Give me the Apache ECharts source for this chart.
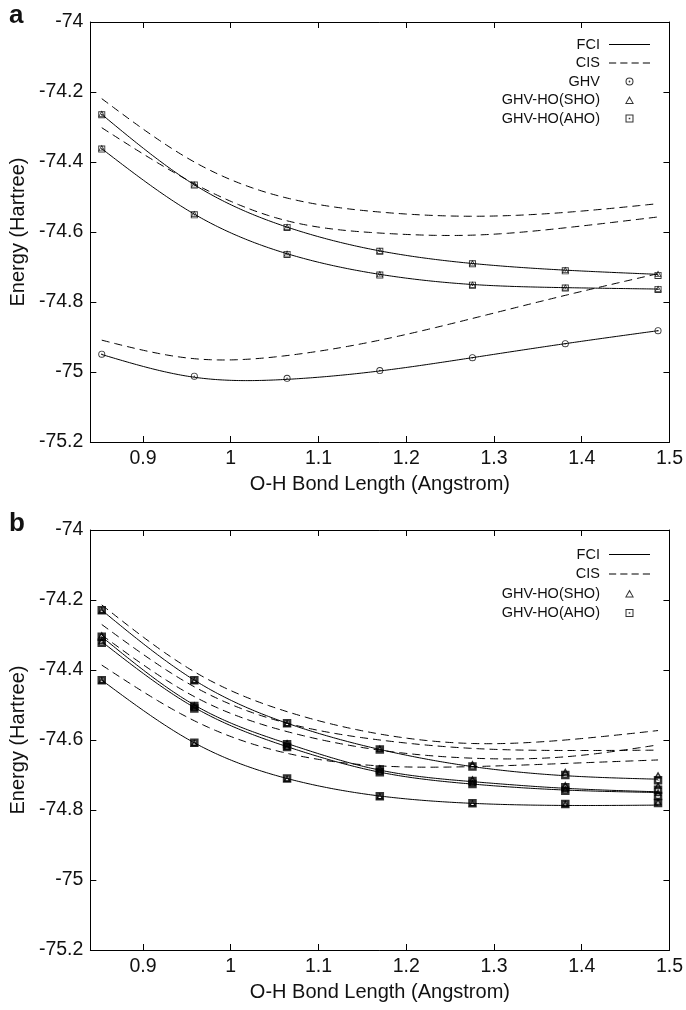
<!DOCTYPE html>
<html>
<head>
<meta charset="utf-8">
<script src="https://cdn.jsdelivr.net/npm/echarts@6/dist/echarts.min.js"></script>
<style>html,body{margin:0;padding:0;background:#fff}#c{width:686px;height:1010px}</style>
</head>
<body>
<div id="c"></div>
<script>
// O-H bond lengths (Angstrom)
const bondLength = [0.853, 0.9585, 1.0642, 1.1699, 1.2755, 1.3813, 1.4870];
const xTicks = [0.9, 1.0, 1.1, 1.2, 1.3, 1.4, 1.5];

// Panel a
const fciA1 = [-74.264, -74.465, -74.586, -74.654, -74.690, -74.709, -74.721];
const fciA2 = [-74.362, -74.549, -74.662, -74.721, -74.750, -74.759, -74.763];
const fciA3 = [-74.950, -75.015, -75.021, -74.997, -74.959, -74.919, -74.882];
const cisA1 = [-74.219, -74.400, -74.503, -74.543, -74.555, -74.544, -74.519];
const cisA2 = [-74.302, -74.462, -74.568, -74.603, -74.609, -74.588, -74.557];
const cisA3 = [-74.909, -74.962, -74.953, -74.909, -74.847, -74.781, -74.719];
const ghvA  = [-74.949, -75.012, -75.018, -74.996, -74.959, -74.919, -74.882];
const shoA1 = [-74.262, -74.464, -74.585, -74.653, -74.689, -74.708, -74.719];
const ahoA1 = [-74.265, -74.466, -74.587, -74.655, -74.691, -74.711, -74.724];
const shoA2 = [-74.360, -74.548, -74.661, -74.720, -74.750, -74.758, -74.762];
const ahoA2 = [-74.363, -74.551, -74.664, -74.723, -74.752, -74.760, -74.764];

// Panel b
const fciB1 = [-74.229, -74.429, -74.552, -74.627, -74.676, -74.702, -74.712];
const fciB2 = [-74.305, -74.500, -74.610, -74.686, -74.719, -74.738, -74.748];
const fciB3 = [-74.319, -74.507, -74.619, -74.692, -74.726, -74.743, -74.750];
const fciB4 = [-74.429, -74.608, -74.710, -74.760, -74.781, -74.787, -74.786];
const cisB1 = [-74.214, -74.405, -74.519, -74.583, -74.610, -74.600, -74.573];
const cisB2 = [-74.270, -74.448, -74.552, -74.600, -74.624, -74.630, -74.629];
const cisB3 = [-74.300, -74.476, -74.576, -74.629, -74.652, -74.648, -74.614];
const cisB4 = [-74.386, -74.545, -74.638, -74.674, -74.676, -74.667, -74.657];
const shoB1 = [-74.229, -74.429, -74.552, -74.624, -74.668, -74.690, -74.700];
const ahoB1 = [-74.229, -74.429, -74.552, -74.627, -74.676, -74.700, -74.715];
const shoB2 = [-74.300, -74.500, -74.608, -74.680, -74.712, -74.728, -74.730];
const ahoB2 = [-74.305, -74.503, -74.612, -74.684, -74.717, -74.735, -74.742];
const shoB3 = [-74.316, -74.507, -74.618, -74.689, -74.722, -74.740, -74.750];
const ahoB3 = [-74.322, -74.510, -74.620, -74.692, -74.726, -74.745, -74.760];
const shoB4 = [-74.429, -74.608, -74.710, -74.760, -74.780, -74.782, -74.776];
const ahoB4 = [-74.429, -74.608, -74.710, -74.761, -74.781, -74.783, -74.780];

const FONT = 'Liberation Sans';
const zip = ys => ys.map((y, i) => [bondLength[i], y]);

const circleDot = 'path://M0,5A5,5 0 1,1 10,5A5,5 0 1,1 0,5Z M1.3,5A3.7,3.7 0 1,0 8.7,5A3.7,3.7 0 1,0 1.3,5Z M3.9,5A1.1,1.1 0 1,1 6.1,5A1.1,1.1 0 1,1 3.9,5Z';
const squareDot = 'path://M0,0H10V10H0Z M1.3,1.3V8.7H8.7V1.3Z M4,4H6V6H4Z';
const triangle = 'path://M5,0L10,9H0Z M5,2.4L1.8,7.9H8.2Z';
const squareThick = 'path://M0,0H10V10H0Z M3,3V7H7V3Z M4.4,4.4H5.6V5.6H4.4Z';
const triThick = 'path://M5,0L10,9H0Z M5,4L3.2,7.1H6.8Z';
const solidIcon = 'path://M0,0H40V1.2H0Z';
const dashIcon = 'path://M0,0H7V1.2H0Z M11,0H18V1.2H11Z M22,0H29V1.2H22Z M33,0H40V1.2H33Z';

// natural cubic spline (as in gnuplot "smooth csplines"), evaluated for drawing
function splineSampler(xs, ys) {
  const n = xs.length, h = [], al = [], l = [1], mu = [0], z = [0], c = new Array(n).fill(0);
  for (let i = 0; i < n - 1; i++) h.push(xs[i + 1] - xs[i]);
  for (let i = 1; i < n - 1; i++) al[i] = 3 / h[i] * (ys[i + 1] - ys[i]) - 3 / h[i - 1] * (ys[i] - ys[i - 1]);
  for (let i = 1; i < n - 1; i++) {
    l[i] = 2 * (xs[i + 1] - xs[i - 1]) - h[i - 1] * mu[i - 1];
    mu[i] = h[i] / l[i];
    z[i] = (al[i] - h[i - 1] * z[i - 1]) / l[i];
  }
  const b = [], d = [];
  for (let j = n - 2; j >= 0; j--) {
    c[j] = (j === 0 ? 0 : z[j] - mu[j] * c[j + 1]);
    b[j] = (ys[j + 1] - ys[j]) / h[j] - h[j] * (c[j + 1] + 2 * c[j]) / 3;
    d[j] = (c[j + 1] - c[j]) / (3 * h[j]);
  }
  return function (x) {
    let j = 0;
    while (j < n - 2 && x > xs[j + 1]) j++;
    const t = x - xs[j];
    return ys[j] + b[j] * t + c[j] * t * t + d[j] * t * t * t;
  };
}

function lineSeries(name, ys, g, dashed) {
  const f = splineSampler(bondLength, ys);
  return {
    type: 'custom', name: name, xAxisIndex: g * 2, yAxisIndex: g * 2,
    data: zip(ys), itemStyle: { color: '#000' }, z: 2, silent: true,
    renderItem: function (params, api) {
      if (params.dataIndex !== 0) return null;
      const pts = [];
      const x0 = bondLength[0], x1 = bondLength[bondLength.length - 1];
      const N = 240;
      for (let k = 0; k <= N; k++) {
        const x = x0 + (x1 - x0) * k / N;
        pts.push(api.coord([x, f(x)]));
      }
      return {
        type: 'polyline', shape: { points: pts }, silent: true,
        style: { stroke: '#000', lineWidth: 1, fill: null, lineDash: dashed ? [8, 5] : null }
      };
    }
  };
}
function scatterSeries(name, arrs, g, sym, size) {
  let d = [];
  arrs.forEach(a => { d = d.concat(zip(a)); });
  return {
    type: 'scatter', name: name, xAxisIndex: g * 2, yAxisIndex: g * 2,
    data: d, symbol: sym, symbolSize: size, symbolKeepAspect: true,
    itemStyle: { color: '#000', borderWidth: 0 }, z: 5, silent: true
  };
}

function grids(top) { return { left: 89, top: top, width: 582, height: 420, containLabel: false }; }

function xAxes(g) {
  return [{
    type: 'value', gridIndex: g, position: 'bottom', min: 0.84, max: 1.5,
    axisLine: { show: true, onZero: false, lineStyle: { color: '#000', width: 1 } },
    axisTick: { show: true, inside: true, length: 6, customValues: xTicks, lineStyle: { color: '#000' } },
    axisLabel: { show: true, customValues: xTicks, fontSize: 19.5, color: '#111', fontFamily: FONT, margin: 7,
      formatter: v => String(Math.round(v * 10) / 10) },
    splitLine: { show: false },
    name: 'O-H Bond Length (Angstrom)', nameLocation: 'middle', nameGap: 32,
    nameTextStyle: { fontSize: 20, color: '#111', fontFamily: FONT }
  }, {
    type: 'value', gridIndex: g, position: 'top', min: 0.84, max: 1.5,
    axisLine: { show: true, onZero: false, lineStyle: { color: '#000', width: 1 } },
    axisTick: { show: true, inside: true, length: 6, customValues: xTicks, lineStyle: { color: '#000' } },
    axisLabel: { show: false }, splitLine: { show: false }
  }];
}
function yAxes(g) {
  return [{
    type: 'value', gridIndex: g, position: 'left', min: -75.2, max: -74, interval: 0.2,
    axisLine: { show: true, onZero: false, lineStyle: { color: '#000', width: 1 } },
    axisTick: { show: true, inside: true, length: 6, lineStyle: { color: '#000' } },
    axisLabel: { fontSize: 19.5, color: '#111', fontFamily: FONT, margin: 7 },
    splitLine: { show: false },
    name: 'Energy (Hartree)', nameLocation: 'middle', nameGap: 51, nameRotate: 90,
    nameTextStyle: { fontSize: 20, color: '#111', fontFamily: FONT }
  }, {
    type: 'value', gridIndex: g, position: 'right', min: -75.2, max: -74, interval: 0.2,
    axisLine: { show: true, onZero: false, lineStyle: { color: '#000', width: 1 } },
    axisTick: { show: true, inside: true, length: 6, lineStyle: { color: '#000' } },
    axisLabel: { show: false }, splitLine: { show: false }
  }];
}

function legend(top, gap, items) {
  return {
    orient: 'vertical', align: 'right', right: 31, top: top,
    itemWidth: 41, itemHeight: 8, itemGap: gap, selectedMode: false,
    itemStyle: { borderWidth: 0 },
    textStyle: { fontSize: 14.5, color: '#111', fontFamily: FONT },
    formatter: n => n + ' ',
    data: items
  };
}

const series = [
  lineSeries('FCI', fciA1, 0, false),
  lineSeries('FCI', fciA2, 0, false),
  lineSeries('FCI', fciA3, 0, false),
  lineSeries('CIS', cisA1, 0, true),
  lineSeries('CIS', cisA2, 0, true),
  lineSeries('CIS', cisA3, 0, true),
  scatterSeries('GHV', [ghvA], 0, circleDot, 7),
  scatterSeries('GHV-HO(SHO)', [shoA1, shoA2], 0, triangle, 7),
  scatterSeries('GHV-HO(AHO)', [ahoA1, ahoA2], 0, squareDot, 7),
  lineSeries('FCI', fciB1, 1, false),
  lineSeries('FCI', fciB2, 1, false),
  lineSeries('FCI', fciB3, 1, false),
  lineSeries('FCI', fciB4, 1, false),
  lineSeries('CIS', cisB1, 1, true),
  lineSeries('CIS', cisB2, 1, true),
  lineSeries('CIS', cisB3, 1, true),
  lineSeries('CIS', cisB4, 1, true),
  scatterSeries('GHV-HO(SHO)', [shoB1, shoB2, shoB3, shoB4], 1, triThick, 8),
  scatterSeries('GHV-HO(AHO)', [ahoB1, ahoB2, ahoB3, ahoB4], 1, squareThick, 8.5)
];

const chart = echarts.init(document.getElementById('c'), null, { renderer: 'canvas' });
chart.setOption({
  animation: false,
  backgroundColor: '#fff',
  title: [
    { text: 'a', left: 9, top: 3, padding: 0, textStyle: { fontSize: 26, fontWeight: 'bold', color: '#111', fontFamily: FONT } },
    { text: 'b', left: 9, top: 511, padding: 0, textStyle: { fontSize: 26, fontWeight: 'bold', color: '#111', fontFamily: FONT } }
  ],
  legend: [
    legend(32, 3.5, [
      { name: 'FCI', icon: solidIcon }, { name: 'CIS', icon: dashIcon },
      { name: 'GHV', icon: circleDot }, { name: 'GHV-HO(SHO)', icon: triangle },
      { name: 'GHV-HO(AHO)', icon: squareDot }
    ]),
    legend(542, 4.5, [
      { name: 'FCI', icon: solidIcon }, { name: 'CIS', icon: dashIcon },
      { name: 'GHV-HO(SHO)', icon: triangle }, { name: 'GHV-HO(AHO)', icon: squareDot }
    ])
  ],
  grid: [grids(22), grids(530)],
  xAxis: xAxes(0).concat(xAxes(1)),
  yAxis: yAxes(0).concat(yAxes(1)),
  series: series
});
</script>
</body>
</html>
